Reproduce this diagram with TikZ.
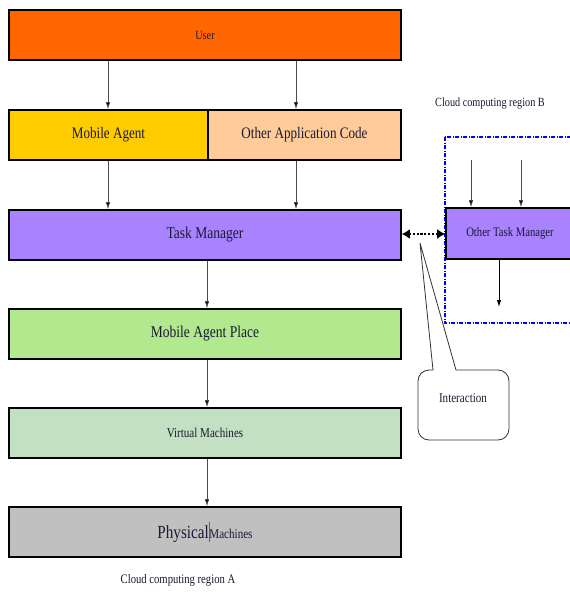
\documentclass[tikz,border=0pt]{standalone}
\usepackage{fontspec}
\setmainfont[FakeStretch=0.82]{Liberation Serif}
\usetikzlibrary{arrows.meta,calc}
\definecolor{cuser}{HTML}{FF6600}
\definecolor{cma}{HTML}{FFCC00}
\definecolor{coac}{HTML}{FFCC99}
\definecolor{ctm}{HTML}{A982FF}
\definecolor{cmap}{HTML}{B2E88E}
\definecolor{cvm}{HTML}{C3E0C3}
\definecolor{cpm}{HTML}{C0C0C0}
\definecolor{ctxt}{HTML}{1A1A33}
\newcommand{\fs}[1]{\fontsize{#1}{#1}\selectfont}
\begin{document}
\begin{tikzpicture}[x=1pt,y=-1pt,
  layer/.style={draw=black,line width=1.6pt,rectangle,minimum height=50pt,inner sep=0pt,text=ctxt},
  arr/.style={draw=black!70,line width=0.7pt,-{Latex[length=7pt,width=4.5pt,fill=black]}},
  lbl/.style={inner sep=0pt,text=ctxt}]
\clip (0,0) rectangle (570,597);
\fill[white] (0,0) rectangle (570,597);
% region B
\draw[blue,line width=1.1pt,dash pattern=on 4pt off 1.5pt on 1pt off 1.5pt] (445,137) rectangle (590,323);
\node[lbl,font=\fs{12.5}] (lblB) at (490,104) {Cloud computing region B};
% layers
\node[layer,fill=cuser,minimum width=392pt,font=\fs{12.5}] (user) at (205,35) {User};
\node[layer,fill=cma,minimum width=199pt,font=\fs{16}] (ma) at (108.5,135) {Mobile Agent};
\node[layer,fill=coac,minimum width=193pt,font=\fs{16}] (oac) at (304.5,135) {Other Application Code};
\node[layer,fill=ctm,minimum width=392pt,font=\fs{16.5}] (tm) at (205,235) {Task Manager};
\node[layer,fill=cmap,minimum width=392pt,font=\fs{16.5}] (map) at (205,334) {Mobile Agent Place};
\node[layer,fill=cvm,minimum width=392pt,font=\fs{13.5}] (vm) at (205,433) {Virtual Machines};
\node[layer,fill=cpm,minimum width=392pt] (pm) at (205,532) {{\fs{18.5}Physical}\textcolor{black!60}{\rule[-4pt]{0.6pt}{20pt}}{\fs{13.5}Machines}};
\node[lbl,font=\fs{13}] (lblA) at (178,580) {Cloud computing region A};
% other task manager
\node[layer,fill=ctm,minimum width=128pt,minimum height=51pt,font=\fs{13}] (otm) at (510,233.5) {Other Task Manager};
% coordinates for arrow columns
\coordinate (xa) at (108,0);
\coordinate (xb) at (296,0);
\coordinate (xc) at (207,0);
\coordinate (b1) at (471,160);
\coordinate (b2) at (521,160);
\coordinate (b3) at (499,307);
% arrows
\draw[arr] (user.south -| xa) -- (ma.north -| xa);
\draw[arr] (user.south -| xb) -- (oac.north -| xb);
\draw[arr] (ma.south -| xa) -- (tm.north -| xa);
\draw[arr] (oac.south -| xb) -- (tm.north -| xb);
\draw[arr] (tm.south -| xc) -- (map.north -| xc);
\draw[arr] (map.south -| xc) -- (vm.north -| xc);
\draw[arr] (vm.south -| xc) -- (pm.north -| xc);
\draw[arr] (b1) -- (otm.north -| b1);
\draw[arr] (b2) -- (otm.north -| b2);
\draw[arr,draw=black,line width=0.9pt] (otm.south -| b3) -- (b3);
% interaction
\draw[black,line width=2.4pt,dash pattern=on 2.2pt off 1.6pt,{Latex[length=8pt,width=10pt]}-{Latex[length=8pt,width=10pt]}] (tm.east |- 0,234) -- (otm.west |- 0,234);
\coordinate (tip) at (420,243);
\draw[black!80,line width=0.8pt,fill=white] (tip) -- (456,370) [rounded corners=11pt] -- (509,370) -- (509,440) -- (418,440) -- (418,370) [sharp corners] -- (433,370) -- cycle;
\node[lbl,font=\fs{13.5}] (inter) at (463,398) {Interaction};
\end{tikzpicture}
\end{document}
